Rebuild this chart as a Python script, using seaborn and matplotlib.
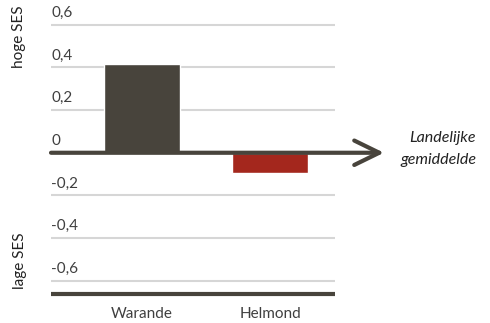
import matplotlib
matplotlib.use("Agg")
import matplotlib.pyplot as plt
import seaborn as sns
import pandas as pd

categories = ["Warande", "Helmond"]
values = [0.415, -0.095]
bar_colors = ["#48443c", "#a4271d"]
grid_values = [0.6, 0.4, 0.2, -0.2, -0.4, -0.6]
tick_labels = ["0,6", "0,4", "0,2", "-0,2", "-0,4", "-0,6"]
zero_label = "0"
top_label = "hoge SES"
bottom_label = "lage SES"
arrow_label = "Landelijke\ngemiddelde"

sns.set_theme(style="white")
plt.rcParams["font.family"] = ["Lato", "DejaVu Sans"]

W, H = 490, 323
fig = plt.figure(figsize=(W / 100, H / 100), dpi=100)
ax_left, ax_right = 51, 335
ax_top, ax_bot = 10, 300
ax = fig.add_axes([ax_left / W, (H - ax_bot) / H, (ax_right - ax_left) / W, (ax_bot - ax_top) / H])

df = pd.DataFrame({"cat": categories, "val": values})
sns.barplot(data=df, x="cat", y="val", hue="cat", palette=bar_colors,
            width=0.6, legend=False, ax=ax, saturation=1, zorder=3)

ax.set_xlim(-0.71, 1.507)
ax.set_ylim(-0.69, 0.669)
for s in ax.spines.values():
    s.set_visible(False)
ax.set_yticks([])
ax.set_xlabel("")
ax.set_ylabel("")
grey_text = "#3f3f3f"
ax.tick_params(axis="x", length=0, pad=5, labelsize=11, labelcolor=grey_text)

for v, lab in zip(grid_values, tick_labels):
    ax.axhline(v, color="#d6d6d6", lw=1.5, zorder=1)
    ax.annotate(lab, xy=(0, v), xycoords=("axes fraction", "data"),
                xytext=(0, 3.5), textcoords="offset points",
                ha="left", va="bottom", fontsize=11, color=grey_text)
ax.annotate(zero_label, xy=(0, 0), xycoords=("axes fraction", "data"),
            xytext=(0, 3.5), textcoords="offset points",
            ha="left", va="bottom", fontsize=11, color=grey_text)

# bottom thick line
ax.axhline(-0.662, color="#48443c", lw=3, zorder=2)

# zero arrow
ax.annotate("", xy=(384 / W, 0), xycoords=("figure fraction", "data"),
            xytext=(ax_left / W, 0), textcoords=("figure fraction", "data"),
            arrowprops=dict(arrowstyle="->,head_length=0.45,head_width=0.22",
                            lw=3, color="#48443c", mutation_scale=40,
                            shrinkA=0, shrinkB=0),
            annotation_clip=False, zorder=4)

fig.text(476 / W, 1 - 149 / H, arrow_label, ha="right", va="center",
         fontsize=11.5, style="italic", color="#222222", linespacing=1.75)

fig.text(19 / W, 1 - 37 / H, top_label, rotation=90, ha="center", va="center",
         fontsize=11, color="#222222")
fig.text(20 / W, 1 - 261 / H, bottom_label, rotation=90, ha="center", va="center",
         fontsize=11, color="#222222")

fig.savefig("out.png", dpi=100)
